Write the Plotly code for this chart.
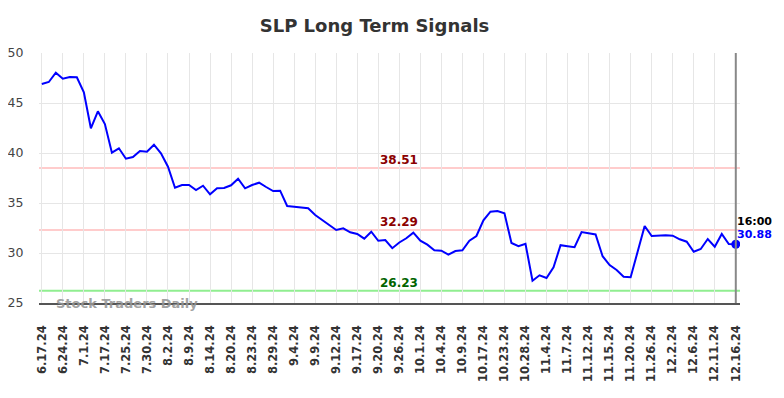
import plotly.graph_objects as go

values = [46.9, 47.1, 48.03, 47.43, 47.6, 47.57, 46.07, 42.47, 44.17, 42.9,
          40.03, 40.47, 39.43, 39.6, 40.2, 40.13, 40.83, 39.97, 38.63, 36.53,
          36.8, 36.8, 36.3, 36.73, 35.87, 36.47, 36.5, 36.77, 37.43, 36.47,
          36.8, 37.03, 36.6, 36.2, 36.23, 34.7, 34.63, 34.57, 34.47, 33.8,
          33.3, 32.75, 32.3, 32.47, 32.07, 31.9, 31.43, 32.13, 31.22, 31.3,
          30.48, 31.05, 31.47, 32.03, 31.23, 30.83, 30.27, 30.23, 29.83, 30.2,
          30.27, 31.23, 31.7, 33.27, 34.13, 34.2, 33.97, 31.0, 30.68, 30.92,
          27.23, 27.77, 27.5, 28.57, 30.78, 30.68, 30.58, 32.1, 31.95, 31.85,
          29.68, 28.8, 28.3, 27.63, 27.57, 30.1, 32.7, 31.7, 31.77, 31.77,
          31.73, 31.37, 31.13, 30.13, 30.4, 31.4, 30.63, 31.9, 30.9, 30.88]

tick_labels = ["6.17.24", "6.24.24", "7.1.24", "7.17.24", "7.25.24", "7.30.24",
               "8.2.24", "8.9.24", "8.14.24", "8.20.24", "8.23.24", "8.29.24",
               "9.4.24", "9.9.24", "9.12.24", "9.17.24", "9.20.24", "9.26.24",
               "10.1.24", "10.4.24", "10.9.24", "10.17.24", "10.23.24", "10.28.24",
               "11.4.24", "11.7.24", "11.12.24", "11.15.24", "11.20.24", "11.26.24",
               "12.2.24", "12.6.24", "12.11.24", "12.16.24"]

resistance_high = 38.51
resistance_low = 32.29
support = 26.23
last_time = "16:00"
last_value = 30.88

x = list(range(len(values)))
tickvals = list(range(0, len(values), 3))

# page body has an 8px margin; figure sized to fit the 784x398 window
W, H = 776, 390
OFF = 8

fig = go.Figure()
fig.add_trace(go.Scatter(x=x, y=values, mode="lines",
                         line=dict(color="#0000ff", width=2), hoverinfo="skip"))
fig.add_trace(go.Scatter(x=[x[-1]], y=[values[-1]], mode="markers",
                         marker=dict(color="#0000ff", size=9), hoverinfo="skip"))

plot_left, plot_right = 39.2, 740.0
font = "DejaVu Sans"
label_x = (399 - plot_left) / (plot_right - plot_left)
for lvl, lc, tc in [(resistance_high, "#ffcccc", "#8b0000"),
                    (resistance_low, "#ffcccc", "#8b0000"),
                    (support, "#90ee90", "#006400")]:
    fig.add_shape(type="line", xref="paper", yref="y", x0=0, x1=1, y0=lvl, y1=lvl,
                  line=dict(color=lc, width=2), layer="below")
    fig.add_annotation(x=label_x, xref="paper", y=lvl, yref="y", text=f"{lvl:.2f}",
                       showarrow=False, yanchor="bottom", yshift=-1,
                       font=dict(family=font, size=12, color=tc, weight="bold"))

fig.add_shape(type="line", xref="x", yref="paper", x0=x[-1], x1=x[-1], y0=0, y1=1,
              line=dict(color="#888888", width=2))

fig.add_annotation(x=x[-1], y=values[-1], xref="x", yref="y", text=last_time,
                   showarrow=False, xanchor="left", yanchor="middle", xshift=-1, yshift=23,
                   font=dict(family=font, size=11, color="#000000", weight="bold"))
fig.add_annotation(x=x[-1], y=values[-1], xref="x", yref="y", text=f"{last_value:.2f}",
                   showarrow=False, xanchor="left", yanchor="middle", xshift=-1, yshift=10,
                   font=dict(family=font, size=11, color="#0000ff", weight="bold"))

fig.add_annotation(x=(54 - plot_left) / (plot_right - plot_left), xref="paper", y=25, yref="y",
                   text="Stock Traders Daily", showarrow=False,
                   xanchor="left", yanchor="middle",
                   font=dict(family=font, size=13, color="rgba(150,150,150,0.9)", weight="bold"))

fig.update_layout(
    width=W, height=H,
    margin=dict(l=plot_left - OFF, r=784 - plot_right, t=53 - OFF, b=398 - 303),
    paper_bgcolor="white", plot_bgcolor="white",
    showlegend=False,
    title=dict(text="SLP Long Term Signals", x=(374.5 - OFF) / W, xanchor="center",
               xref="container", y=1 - (26 - OFF) / H, yanchor="middle", yref="container",
               font=dict(family=font, size=18, color="#333333", weight="bold")),
    xaxis=dict(range=[-0.4, 99.6], tickvals=tickvals, ticktext=tick_labels,
               tickangle=-90, showgrid=True, gridcolor="#e6e6e6", gridwidth=1,
               zeroline=False, showline=True, linecolor="#555555", linewidth=1.5,
               ticks="outside", ticklen=16, tickcolor="rgba(0,0,0,0)", automargin=False,
               tickfont=dict(family=font, size=11.5, color="#333333", weight="bold")),
    yaxis=dict(range=[25, 50], tickvals=[25, 30, 35, 40, 45, 50],
               showgrid=True, gridcolor="#e6e6e6", gridwidth=1, zeroline=False,
               showline=False, ticks="outside", ticklen=12, tickcolor="rgba(0,0,0,0)",
               automargin=False,
               tickfont=dict(family=font, size=12.5, color="#444444")),
)

fig.write_html("out.html")
